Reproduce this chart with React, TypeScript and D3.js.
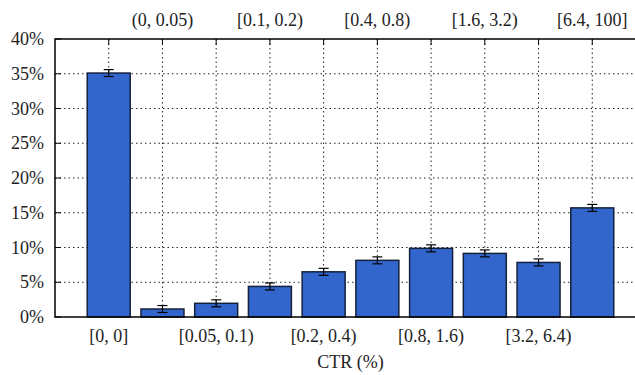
import React from "react";
import * as d3 from "d3";

// CTR buckets (x axis), share of items (%) and error half-width (%)
const buckets = [
  "[0, 0]",
  "(0, 0.05)",
  "[0.05, 0.1)",
  "[0.1, 0.2)",
  "[0.2, 0.4)",
  "[0.4, 0.8)",
  "[0.8, 1.6)",
  "[1.6, 3.2)",
  "[3.2, 6.4)",
  "[6.4, 100]",
];
const shares = [35.1, 1.15, 1.97, 4.4, 6.5, 8.15, 9.88, 9.15, 7.85, 15.7];
const errors = [0.5, 0.5, 0.5, 0.5, 0.5, 0.5, 0.5, 0.5, 0.5, 0.5];
const yTicks = [0, 5, 10, 15, 20, 25, 30, 35, 40];

const W = 635;
const H = 375;
const left = 55;
const right = 646; // frame runs past the picture edge
const top = 39;
const bottom = 317;
const font = "Liberation Serif";

export default function App() {
  const x = d3
    .scaleBand()
    .domain(buckets)
    .range([left, right])
    .paddingInner(0.2)
    .paddingOuter(0.6);
  const y = d3.scaleLinear().domain([0, 40]).range([bottom, top]);
  const cx = (b) => x(b) + x.bandwidth() / 2;

  return (
    <svg
      width={W}
      height={H}
      style={{ position: "absolute", left: 0, top: 0, background: "#fff" }}
    >
      {/* grid */}
      {yTicks.slice(1, -1).map((t) => (
        <line
          key={"gy" + t}
          x1={left}
          x2={right}
          y1={y(t)}
          y2={y(t)}
          stroke="#222"
          strokeWidth={1}
          strokeDasharray="1.5,3"
        />
      ))}
      {buckets.map((b) => (
        <line
          key={"gx" + b}
          x1={cx(b)}
          x2={cx(b)}
          y1={top}
          y2={bottom}
          stroke="#222"
          strokeWidth={1}
          strokeDasharray="1.5,3"
        />
      ))}

      {/* ticks */}
      {buckets.map((b) => (
        <g key={"tk" + b}>
          <line x1={cx(b)} x2={cx(b)} y1={top} y2={top + 6} stroke="#000" />
          <line x1={cx(b)} x2={cx(b)} y1={bottom} y2={bottom - 6} stroke="#000" />
        </g>
      ))}
      {yTicks.map((t) => (
        <line key={"ty" + t} x1={left} x2={left + 6} y1={y(t)} y2={y(t)} stroke="#000" />
      ))}

      {/* bars */}
      {buckets.map((b, i) => (
        <rect
          key={"bar" + b}
          x={x(b)}
          y={y(shares[i])}
          width={x.bandwidth()}
          height={y(0) - y(shares[i])}
          fill="#3366cc"
          stroke="#14213d"
          strokeWidth={1.5}
        />
      ))}

      {/* error bars */}
      {buckets.map((b, i) => {
        const c = cx(b);
        const lo = y(shares[i] - errors[i]);
        const hi = y(shares[i] + errors[i]);
        return (
          <g key={"err" + b} stroke="#000" strokeWidth={1.2}>
            <line x1={c} x2={c} y1={lo} y2={hi} />
            <line x1={c - 5} x2={c + 5} y1={lo} y2={lo} />
            <line x1={c - 5} x2={c + 5} y1={hi} y2={hi} />
          </g>
        );
      })}

      {/* frame */}
      <rect
        x={left}
        y={top}
        width={right - left}
        height={bottom - top}
        fill="none"
        stroke="#000"
        strokeWidth={1.5}
      />

      {/* y labels */}
      {yTicks.map((t) => (
        <text
          key={"yl" + t}
          x={44}
          y={y(t) + 6}
          textAnchor="end"
          fontSize={18}
          fontFamily={font}
          fill="#222"
        >
          {t}%
        </text>
      ))}

      {/* x labels, alternating bottom / top */}
      {buckets.map((b, i) => (
        <text
          key={"xl" + b}
          x={cx(b)}
          y={i % 2 === 0 ? 342 : 26}
          textAnchor="middle"
          fontSize={18}
          fontFamily={font}
          fill="#222"
        >
          {b}
        </text>
      ))}

      <text
        x={(left + right) / 2}
        y={368}
        textAnchor="middle"
        fontSize={18}
        fontFamily={font}
        fill="#222"
      >
        CTR (%)
      </text>
    </svg>
  );
}
